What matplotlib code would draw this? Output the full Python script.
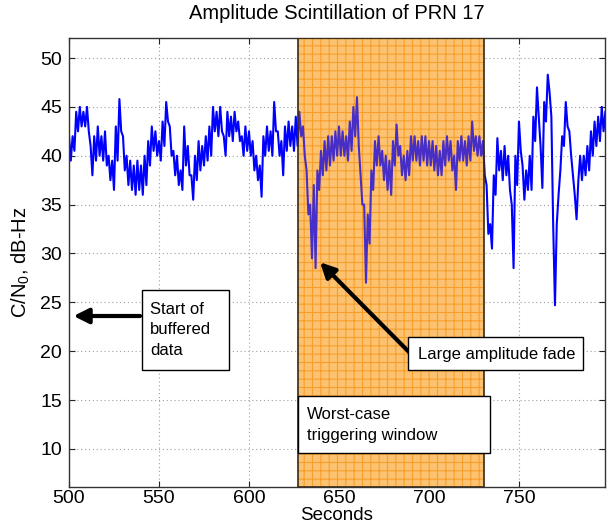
import numpy as np
import matplotlib
matplotlib.use("Agg")
import matplotlib.pyplot as plt
from matplotlib.patches import Rectangle

plt.rcParams['font.family'] = ['Liberation Sans', 'DejaVu Sans']
plt.rcParams['mathtext.fontset'] = 'custom'
plt.rcParams['mathtext.rm'] = 'Liberation Sans'
plt.rcParams['mathtext.it'] = 'Liberation Sans'
plt.rcParams['hatch.linewidth'] = 0.8

# ---- data (C/N0 in dB-Hz, one sample per second starting at t=500 s) ----
t_start = 500
cn0_db = [
    42, 39.5, 42, 40.5, 44.5, 42.5, 45, 43, 44.5, 43,
    45, 42.5, 41, 38, 42, 39.5, 43, 40, 42, 39.5,
    42.5, 39, 40, 37.5, 39.5, 36.5, 43, 39.5, 45.8, 42.5,
    42, 38.5, 40, 37, 39.5, 36.5, 39, 36, 39.5, 36.5,
    39, 36, 40, 37, 41.5, 39, 43, 40.5, 42.5, 40,
    41.5, 39.5, 43.5, 41, 45.5, 43.5, 43, 40, 40.5, 38,
    40, 37, 38.5, 36.5, 43, 39, 41, 38, 38, 35.5,
    40, 37.5, 41.5, 38.5, 41, 39, 42, 39.5, 43, 40,
    45, 42.5, 44.5, 42, 45, 42.5, 42, 40, 44.5, 42,
    44, 41.5, 44.5, 42.5, 43.5, 41.5, 42, 40, 43, 40.5,
    42.5, 40, 41.5, 38.5, 40, 37.5, 39, 35.8, 42, 40,
    43, 40.5, 42.5, 40, 45.5, 42.5, 42.5, 40, 41.5, 38,
    43, 40.5, 43.5, 41, 43, 40.5, 44, 41, 44.5, 42,
    43, 40, 38.5, 34, 35, 29.5, 37, 28.5, 38.5, 36.5,
    40.5, 38, 41.5, 38.5, 42, 39, 42, 39.5, 42.5, 40,
    43, 40, 42.5, 40, 42, 39.5, 43.5, 40.5, 45, 42,
    46, 41, 38, 35, 35, 27, 34, 31, 38.5, 36.5,
    41.5, 39, 42, 39, 40.5, 37.5, 40, 36.5, 39.5, 36,
    41.5, 39, 43.2, 40, 41, 38, 40, 37.5, 40.5, 38,
    42, 39.5, 42, 39.5, 41.5, 39, 42, 39.5, 42, 39,
    41.5, 39, 41.5, 38.5, 41, 38, 40.5, 38, 41.5, 39,
    42, 39.5, 41.5, 38.5, 40, 36.5, 41.5, 39.5, 42, 39.5,
    41.5, 39, 42, 39.5, 43.5, 40.5, 42, 40, 42, 40,
    41.5, 38, 37, 32, 33, 30.5, 38, 36, 41.8, 38.5,
    40.5, 37.5, 41, 38, 40, 36.5, 35, 28.5, 40, 37,
    43.5, 40.5, 39, 35.5, 38.5, 36.5, 40, 36.5, 44, 41.5,
    47, 44, 41, 36.7, 45.5, 43.5, 48.3, 46.5, 44, 33,
    24.7, 33, 36, 38.5, 42, 41, 45.5, 43, 42.5, 40,
    38, 36, 33.5, 37.5, 40, 37.5, 40, 38, 41, 38.5,
    42.5, 40, 43.5, 41, 44, 41.5, 45, 42.5, 44.5,
]
seconds = t_start + np.arange(len(cn0_db))

window_start, window_end = 627, 730.3
x_ticks = [500, 550, 600, 650, 700, 750]
y_ticks = [10, 15, 20, 25, 30, 35, 40, 45, 50]

# ---- figure ----
W, H = 607, 525
fig = plt.figure(figsize=(W / 100, H / 100), dpi=100)
ax = fig.add_axes([69 / W, 38 / H, (605 - 69) / W, (487 - 38) / H])

ax.plot(seconds, cn0_db, color=(0, 0, 1), lw=1.5, zorder=2)

ax.set_xlim(500, 797.8)
ax.set_ylim(6.1, 52.05)
ax.set_xticks(x_ticks)
ax.set_yticks(y_ticks)
ax.tick_params(direction='in', labelsize=14, top=True, right=True,
               length=4, width=0.8, colors='#222222', labelcolor='black')
ax.tick_params(axis='x', pad=2)
ax.tick_params(axis='y', pad=5)
ax.grid(True, linestyle=(0, (1, 2.5)), color='#a0a0a0', lw=0.8)
ax.set_axisbelow(True)
for s in ax.spines.values():
    s.set_color('#333333')
    s.set_linewidth(1.0)

# shaded trigger window: opaque base below the trace, light tint above it
ax.axvspan(window_start, window_end, facecolor='#FDCD88', lw=0, zorder=1.5)
ax.axvspan(window_start, window_end, facecolor='none', edgecolor='#F59B26',
           hatch='++', lw=0, zorder=1.6)
ax.axvspan(window_start, window_end, facecolor='#FFA836', alpha=0.28,
           lw=0, zorder=3)
ax.axvspan(window_start, window_end, facecolor='none', edgecolor='#3a2a10',
           lw=1.2, zorder=4)

ax.text(0.5, 1 + 25 / 449, 'Amplitude Scintillation of PRN 17',
        transform=ax.transAxes, ha='center', va='center', fontsize=14.5)
ax.set_xlabel('Seconds', fontsize=13.5, va='baseline')
ax.xaxis.set_label_coords(0.5, -32.5 / 449)
ax.set_ylabel('C/N$_0$, dB-Hz', fontsize=14.5, va='center')
ax.yaxis.set_label_coords(-48 / 536, 0.5)

# ---- annotation boxes (figure pixel positions) ----
def box(x0, y0, x1, y1):
    fig.patches.append(Rectangle((x0 / W, 1 - y1 / H), (x1 - x0) / W,
                                 (y1 - y0) / H, transform=fig.transFigure,
                                 facecolor='white', edgecolor='black',
                                 lw=1.0, zorder=5))

box(142, 290, 229, 370)
fig.text(150 / W, 1 - 330 / H, 'Start of\nbuffered\ndata', fontsize=12,
         va='center', ha='left', linespacing=1.45, zorder=6)

box(408, 337, 583, 370)
fig.text(418 / W, 1 - 354 / H, 'Large amplitude fade', fontsize=12,
         va='center', ha='left', zorder=6)

box(298, 396, 490, 453)
fig.text(307 / W, 1 - 425 / H, 'Worst-case\ntriggering window', fontsize=12,
         va='center', ha='left', linespacing=1.45, zorder=6)

arrow = dict(arrowstyle='-|>,head_length=0.9,head_width=0.45', lw=3,
             color='black', shrinkA=0, shrinkB=0)
ax.annotate('', xy=(502.5, 23.6), xytext=(539.5, 23.6), arrowprops=arrow,
            zorder=7)
ax.annotate('', xy=(639.5, 29.1), xytext=(689.5, 19.8), arrowprops=arrow,
            zorder=7)

fig.savefig('out.png', dpi=100)
